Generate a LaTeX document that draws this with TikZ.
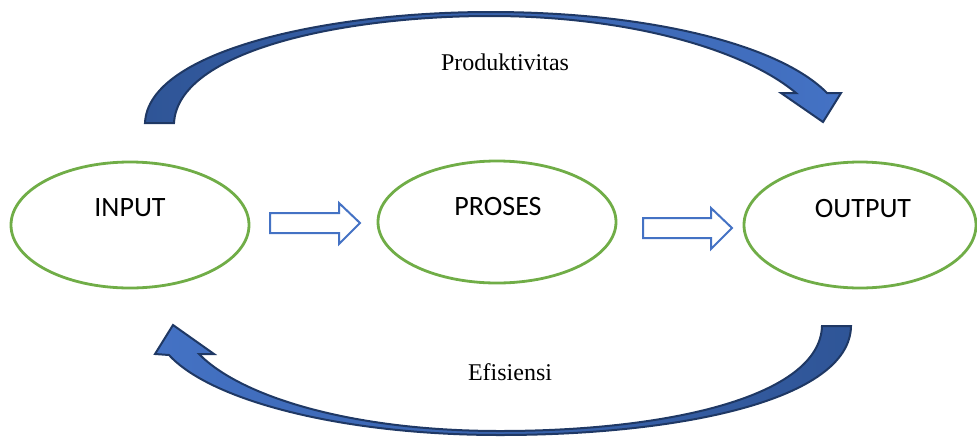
\documentclass[tikz,border=0pt]{standalone}
\usepackage{fontspec}
\setmainfont{Liberation Serif}
\newfontfamily\calibri{Carlito}
\usetikzlibrary{shapes.geometric}

\definecolor{leafgreen}{HTML}{70AD47}
\definecolor{accentblue}{HTML}{4472C4}
\definecolor{darkblue}{HTML}{2F5597}
\definecolor{navy}{HTML}{1F3864}

\tikzset{
  stage/.style={ellipse, draw=leafgreen, line width=2.8pt, inner sep=0pt},
  stagetext/.style={font=\calibri\fontsize{28}{30}\selectfont},
  hollow/.style={draw=accentblue, line width=2pt, fill=white, line join=miter},
  loopband/.style={draw=navy, line width=2pt, line join=miter},
  caption/.style={font=\fontsize{24}{26}\selectfont}
}

\begin{document}
\begin{tikzpicture}[x=1pt,y=-1pt]
\useasboundingbox (0,0) rectangle (977,437);

% the three stages
\node[stage, minimum width=238pt, minimum height=126pt] (input) at (130,225) {};
\node[stage, minimum width=238pt, minimum height=122pt] (proses) at (497,222) {};
\node[stage, minimum width=232pt, minimum height=126pt] (output) at (860,225) {};
\node[stagetext] (inputtext) at (130,208) {INPUT};
\node[stagetext] (prosestext) at (498,207) {PROSES};
\node[stagetext] (outputtext) at (863,209) {OUTPUT};

% hollow block arrows
\draw[hollow] (270,213) -- (339,213) -- (339,203) -- (360,223) -- (339,244)
  -- (339,233) -- (270,233) -- cycle;
\draw[hollow] (643,218) -- (711,218) -- (711,208) -- (732,228) -- (711,249)
  -- (711,238) -- (643,238) -- cycle;

% curved arrow on top
\path[loopband, left color=darkblue, right color=accentblue]
  (145,123) .. controls (148,50) and (330,12) .. (490,12)
  .. controls (650,12) and (780,45) .. (827,93)
  -- (841,93) -- (823,122) -- (781,93) -- (796,93)
  .. controls (745,50) and (630,16) .. (490,16)
  .. controls (345,16) and (178,50) .. (174,123) -- cycle;

% curved arrow at the bottom
\path[loopband, left color=accentblue, right color=darkblue]
  (851,326) .. controls (850,400) and (680,435) .. (500,435)
  .. controls (340,435) and (210,400) .. (169,355)
  -- (155,354) -- (173,325) -- (214,354) -- (199,354)
  .. controls (240,396) and (350,431) .. (500,431)
  .. controls (670,431) and (820,396) .. (822,326) -- cycle;

\node[caption] (prod) at (505,62) {Produktivitas};
\node[caption] (efis) at (510,372) {Efisiensi};
\end{tikzpicture}
\end{document}
